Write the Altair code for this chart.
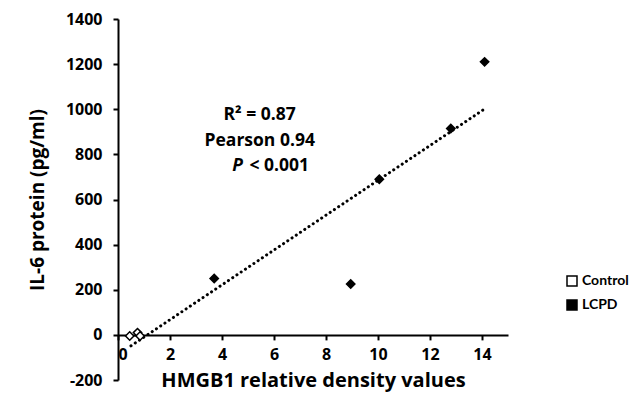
import altair as alt
import pandas as pd

groups = ["Control", "Control", "Control", "LCPD", "LCPD", "LCPD", "LCPD", "LCPD"]
hmgb1 = [0.45, 0.75, 0.85, 3.7, 8.95, 10.05, 12.8, 14.1]
il6 = [-5, 10, -5, 250, 225, 690, 915, 1210]

ann_text = ["R\u00b2 = 0.87", "Pearson 0.94"]
ann_x = [5.45, 5.45]
ann_y = [975, 858]

df = pd.DataFrame({"group": groups, "x": hmgb1, "y": il6})
ann = pd.DataFrame({"t": ann_text, "x": ann_x, "y": ann_y})
p_italic = pd.DataFrame({"t": ["P"], "x": [4.6], "y": [750]})
p_rest = pd.DataFrame({"t": ["< 0.001"], "x": [6.2], "y": [750]})

FONT = "Open Sans"

xscale = alt.Scale(domain=[0, 15], nice=False)
yscale = alt.Scale(domain=[-200, 1400], nice=False)

xaxis = alt.Axis(values=[0, 2, 4, 6, 8, 10, 12, 14], offset=-45.1, tickSize=5,
                 labelPadding=7, titlePadding=8, grid=False, domainColor="black",
                 tickColor="black", domainWidth=2, tickWidth=2, labelFont=FONT,
                 labelFontSize=16, labelFontWeight="bold", labelColor="black", format="d",
                 titleFont=FONT, titleFontSize=20, titleFontWeight="bold", titleColor="black")
yaxis = alt.Axis(values=list(range(-200, 1401, 200)), tickSize=5, labelPadding=11,
                 titlePadding=18, grid=False, domainColor="black", tickColor="black",
                 domainWidth=2, tickWidth=2, labelFont=FONT, labelFontSize=16,
                 labelExpr="datum.value < 0 ? '-' + abs(datum.value) : '' + datum.value",
                 labelFontWeight="bold", labelColor="black", titleFont=FONT,
                 titleFontSize=19, titleFontWeight="bold", titleColor="black")

base = alt.Chart(df)

trend = base.transform_regression("x", "y", extent=[0.5, 14.1]).mark_line(
    color="black", strokeDash=[0.1, 5], strokeWidth=3, strokeCap="round"
).encode(
    x=alt.X("x:Q", scale=xscale, axis=xaxis, title="HMGB1 relative density values"),
    y=alt.Y("y:Q", scale=yscale, axis=yaxis, title="IL-6 protein (pg/ml)"),
)

points = base.mark_point(shape="diamond", size=70, filled=True, stroke="black",
                         strokeWidth=1.5, opacity=1).encode(
    x=alt.X("x:Q", scale=xscale),
    y=alt.Y("y:Q", scale=yscale),
    fill=alt.Fill("group:N", scale=alt.Scale(domain=["Control", "LCPD"], range=["white", "black"]),
                  legend=alt.Legend(title=None, orient="none", legendX=447, legendY=255,
                                    symbolType="square", symbolSize=100,
                                    symbolStrokeColor="black", symbolStrokeWidth=1.5,
                                    labelFont="Lato", labelFontSize=14, labelFontWeight="bold",
                                    labelColor="black", rowPadding=8, labelOffset=3)),
)

text1 = alt.Chart(ann).mark_text(font=FONT, fontSize=17.5, fontWeight="bold", color="black").encode(
    x=alt.X("x:Q", scale=xscale), y=alt.Y("y:Q", scale=yscale), text="t:N")
text2 = alt.Chart(p_italic).mark_text(font=FONT, fontSize=17.5, fontWeight="bold",
                                      fontStyle="italic", color="black").encode(
    x=alt.X("x:Q", scale=xscale), y=alt.Y("y:Q", scale=yscale), text="t:N")
text3 = alt.Chart(p_rest).mark_text(font=FONT, fontSize=17.5, fontWeight="bold", color="black").encode(
    x=alt.X("x:Q", scale=xscale), y=alt.Y("y:Q", scale=yscale), text="t:N")

chart = alt.layer(trend, points, text1, text2, text3).properties(
    width=390, height=361,
    autosize=alt.AutoSizeParams(type="none"),
    padding={"left": 110, "top": 11, "right": 125, "bottom": 28},
).configure_view(stroke=None)

chart.save("out.html", embed_options={"renderer": "svg", "actions": False})
